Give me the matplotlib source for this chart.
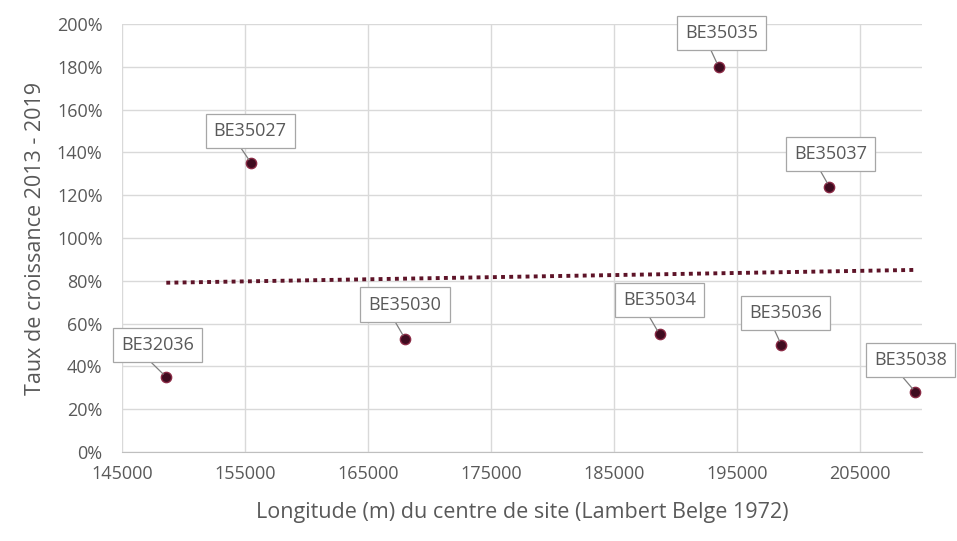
import numpy as np
import matplotlib
matplotlib.use("Agg")
import matplotlib.pyplot as plt
from matplotlib.ticker import FuncFormatter

sites = ["BE32036", "BE35027", "BE35030", "BE35034", "BE35035", "BE35036", "BE35037", "BE35038"]
longitude = [148600, 155500, 168000, 188700, 193500, 198600, 202500, 209500]
growth = [35, 135, 53, 55, 180, 50, 124, 28]
label_dx = [-9, -1, 0, 0, 3, 4, 1, -5]
label_dy = [32, 32, 34, 34, 34, 32, 33, 32]

plt.rcParams['font.family'] = ['Open Sans', 'DejaVu Sans']
txt = '#595959'

fig = plt.figure(figsize=(9.57, 5.41), dpi=100)
ax = fig.add_axes([0.1275, 0.1645, 0.8355, 0.7911])

ax.set_xlim(145000, 210000)
ax.set_ylim(0, 200)
ax.set_xticks(np.arange(145000, 210001, 10000))
ax.set_yticks(np.arange(0, 201, 20))
ax.yaxis.set_major_formatter(FuncFormatter(lambda v, p: f"{int(v)}%"))
ax.grid(True, color='#d9d9d9', linewidth=1)
ax.set_axisbelow(True)
for s in ['top', 'right', 'left']:
    ax.spines[s].set_visible(False)
ax.spines['bottom'].set_color('#bfbfbf')
ax.tick_params(axis='x', length=0, colors=txt, labelsize=13, pad=9)
ax.tick_params(axis='y', length=0, colors=txt, labelsize=13, pad=14)

# trend line
coef = np.polyfit(longitude, growth, 1)
xt = np.array([min(longitude), max(longitude)])
ax.plot(xt, np.polyval(coef, xt), linestyle=(0, (1, 1.1)), color='#5e1428', linewidth=2.8, zorder=2)

ax.scatter(longitude, growth, s=55, color='#3f0c20', edgecolors='#8a2a45', linewidths=1, zorder=3)

for name, x, y, dx, dy in zip(sites, longitude, growth, label_dx, label_dy):
    ax.annotate(name, xy=(x, y), xytext=(dx, dy), textcoords='offset pixels',
                ha='center', va='center', fontsize=13, color=txt,
                bbox=dict(boxstyle='square,pad=0.45', fc='white', ec='#a6a6a6', lw=0.9),
                arrowprops=dict(arrowstyle='-', color='#7f7f7f', lw=0.9, relpos=(0.3, 0),
                                shrinkA=0, shrinkB=3), zorder=4)

ax.set_xlabel("Longitude (m) du centre de site (Lambert Belge 1972)", color=txt, fontsize=15.5, labelpad=14)
ax.set_ylabel("Taux de croissance 2013 - 2019", color=txt, fontsize=15.5, labelpad=8)

fig.savefig("out.png", dpi=100)
